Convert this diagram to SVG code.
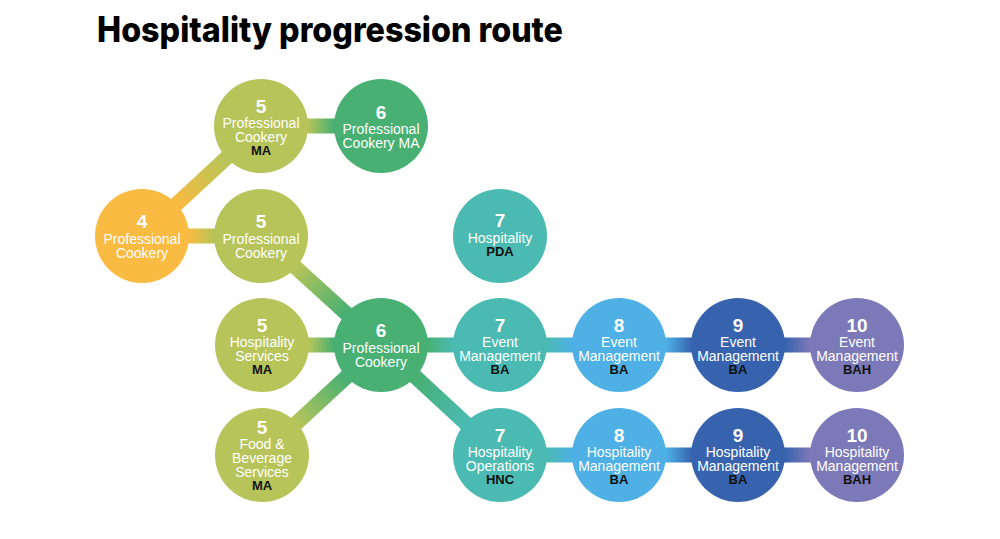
<svg xmlns="http://www.w3.org/2000/svg" width="1000" height="539" viewBox="0 0 1000 539">
<style>
.title{font-family:Inter,"Liberation Sans",sans-serif;font-weight:800;font-size:35px;fill:#000}
.t{font-family:"Liberation Sans",Arial,sans-serif;font-size:14px;fill:#fff;text-anchor:middle}
.num{font-weight:bold;font-size:19px;fill:#fff}
.suf{font-weight:bold;font-size:13px;fill:#111}
.c4{fill:#F9BB41}.c5{fill:#B6C45A}.c6{fill:#47B072}.c7{fill:#4BBAB3}.c8{fill:#4EB0E5}.c9{fill:#3763AE}.c10{fill:#7C79B8}
.con{stroke-width:15;fill:none}
</style>
<defs>
<linearGradient id="g1" gradientUnits="userSpaceOnUse" x1="176" y1="204" x2="227" y2="158"><stop offset="0" stop-color="#F9BB41"/><stop offset="1" stop-color="#B6C45A"/></linearGradient>
<linearGradient id="g2" gradientUnits="userSpaceOnUse" x1="189" y1="0" x2="214" y2="0"><stop offset="0" stop-color="#F9BB41"/><stop offset="1" stop-color="#B6C45A"/></linearGradient>
<linearGradient id="g3" gradientUnits="userSpaceOnUse" x1="308" y1="0" x2="334" y2="0"><stop offset="0" stop-color="#B6C45A"/><stop offset="1" stop-color="#47B072"/></linearGradient>
<linearGradient id="g4" gradientUnits="userSpaceOnUse" x1="296" y1="268" x2="346" y2="313"><stop offset="0" stop-color="#B6C45A"/><stop offset="1" stop-color="#47B072"/></linearGradient>
<linearGradient id="g5" gradientUnits="userSpaceOnUse" x1="309" y1="0" x2="334" y2="0"><stop offset="0" stop-color="#B6C45A"/><stop offset="1" stop-color="#47B072"/></linearGradient>
<linearGradient id="g6" gradientUnits="userSpaceOnUse" x1="296" y1="423" x2="346" y2="377"><stop offset="0" stop-color="#B6C45A"/><stop offset="1" stop-color="#47B072"/></linearGradient>
<linearGradient id="g7" gradientUnits="userSpaceOnUse" x1="428" y1="0" x2="453" y2="0"><stop offset="0" stop-color="#47B072"/><stop offset="1" stop-color="#4BBAB3"/></linearGradient>
<linearGradient id="g8" gradientUnits="userSpaceOnUse" x1="415" y1="377" x2="466" y2="423"><stop offset="0" stop-color="#47B072"/><stop offset="1" stop-color="#4BBAB3"/></linearGradient>
<linearGradient id="g9" gradientUnits="userSpaceOnUse" x1="547" y1="0" x2="572" y2="0"><stop offset="0" stop-color="#4BBAB3"/><stop offset="1" stop-color="#4EB0E5"/></linearGradient>
<linearGradient id="g10" gradientUnits="userSpaceOnUse" x1="666" y1="0" x2="692" y2="0"><stop offset="0" stop-color="#4EB0E5"/><stop offset="1" stop-color="#3763AE"/></linearGradient>
<linearGradient id="g11" gradientUnits="userSpaceOnUse" x1="785" y1="0" x2="810" y2="0"><stop offset="0" stop-color="#3763AE"/><stop offset="1" stop-color="#7C79B8"/></linearGradient>
</defs>
<text class="title" x="97" y="42" textLength="466" lengthAdjust="spacingAndGlyphs">Hospitality progression route</text>
<g id="connectors">
<line class="con" stroke="url(#g1)" x1="142" y1="236" x2="261" y2="126"/>
<line class="con" stroke="url(#g2)" x1="142" y1="236" x2="261" y2="236"/>
<line class="con" stroke="url(#g3)" x1="261" y1="126" x2="381" y2="126"/>
<line class="con" stroke="url(#g4)" x1="261" y1="236" x2="381" y2="345"/>
<line class="con" stroke="url(#g5)" x1="262" y1="345" x2="381" y2="345"/>
<line class="con" stroke="url(#g6)" x1="262" y1="455" x2="381" y2="345"/>
<line class="con" stroke="url(#g7)" x1="381" y1="345" x2="500" y2="345"/>
<line class="con" stroke="url(#g8)" x1="381" y1="345" x2="500" y2="455"/>
<line class="con" stroke="url(#g9)" x1="500" y1="345" x2="619" y2="345"/>
<line class="con" stroke="url(#g10)" x1="619" y1="345" x2="738" y2="345"/>
<line class="con" stroke="url(#g11)" x1="738" y1="345" x2="857" y2="345"/>
<line class="con" stroke="url(#g9)" x1="500" y1="455" x2="619" y2="455"/>
<line class="con" stroke="url(#g10)" x1="619" y1="455" x2="738" y2="455"/>
<line class="con" stroke="url(#g11)" x1="738" y1="455" x2="857" y2="455"/>
</g>
<g id="n4pc"><circle class="c4" cx="142" cy="236" r="47"/><text class="t"><tspan class="num" x="142" y="228">4</tspan><tspan x="142" y="244">Professional</tspan><tspan x="142" y="258">Cookery</tspan></text></g>
<g id="n5pcma"><circle class="c5" cx="261" cy="126" r="47"/><text class="t"><tspan class="num" x="261" y="113">5</tspan><tspan x="261" y="128">Professional</tspan><tspan x="261" y="142">Cookery</tspan><tspan class="suf" x="261" y="155">MA</tspan></text></g>
<g id="n6pcma"><circle class="c6" cx="381" cy="126" r="47"/><text class="t"><tspan class="num" x="381" y="119">6</tspan><tspan x="381" y="134">Professional</tspan><tspan x="381" y="148">Cookery MA</tspan></text></g>
<g id="n5pc"><circle class="c5" cx="261" cy="236" r="47"/><text class="t"><tspan class="num" x="261" y="228">5</tspan><tspan x="261" y="244">Professional</tspan><tspan x="261" y="258">Cookery</tspan></text></g>
<g id="n7pda"><circle class="c7" cx="500" cy="236" r="47"/><text class="t"><tspan class="num" x="500" y="227">7</tspan><tspan x="500" y="243">Hospitality</tspan><tspan class="suf" x="500" y="256">PDA</tspan></text></g>
<g id="n5hs"><circle class="c5" cx="262" cy="345" r="47"/><text class="t"><tspan class="num" x="262" y="332">5</tspan><tspan x="262" y="347">Hospitality</tspan><tspan x="262" y="361">Services</tspan><tspan class="suf" x="262" y="374">MA</tspan></text></g>
<g id="n6pc"><circle class="c6" cx="381" cy="345" r="47"/><text class="t"><tspan class="num" x="381" y="337">6</tspan><tspan x="381" y="353">Professional</tspan><tspan x="381" y="367">Cookery</tspan></text></g>
<g id="n7em"><circle class="c7" cx="500" cy="345" r="47"/><text class="t"><tspan class="num" x="500" y="332">7</tspan><tspan x="500" y="347">Event</tspan><tspan x="500" y="361">Management</tspan><tspan class="suf" x="500" y="374">BA</tspan></text></g>
<g id="n8em"><circle class="c8" cx="619" cy="345" r="47"/><text class="t"><tspan class="num" x="619" y="332">8</tspan><tspan x="619" y="347">Event</tspan><tspan x="619" y="361">Management</tspan><tspan class="suf" x="619" y="374">BA</tspan></text></g>
<g id="n9em"><circle class="c9" cx="738" cy="345" r="47"/><text class="t"><tspan class="num" x="738" y="332">9</tspan><tspan x="738" y="347">Event</tspan><tspan x="738" y="361">Management</tspan><tspan class="suf" x="738" y="374">BA</tspan></text></g>
<g id="n10em"><circle class="c10" cx="857" cy="345" r="47"/><text class="t"><tspan class="num" x="857" y="332">10</tspan><tspan x="857" y="347">Event</tspan><tspan x="857" y="361">Management</tspan><tspan class="suf" x="857" y="374">BAH</tspan></text></g>
<g id="n5fb"><circle class="c5" cx="262" cy="455" r="47"/><text class="t"><tspan class="num" x="262" y="434">5</tspan><tspan x="262" y="449">Food &amp;</tspan><tspan x="262" y="463">Beverage</tspan><tspan x="262" y="477">Services</tspan><tspan class="suf" x="262" y="490">MA</tspan></text></g>
<g id="n7ho"><circle class="c7" cx="500" cy="455" r="47"/><text class="t"><tspan class="num" x="500" y="442">7</tspan><tspan x="500" y="457">Hospitality</tspan><tspan x="500" y="471">Operations</tspan><tspan class="suf" x="500" y="484">HNC</tspan></text></g>
<g id="n8hm"><circle class="c8" cx="619" cy="455" r="47"/><text class="t"><tspan class="num" x="619" y="442">8</tspan><tspan x="619" y="457">Hospitality</tspan><tspan x="619" y="471">Management</tspan><tspan class="suf" x="619" y="484">BA</tspan></text></g>
<g id="n9hm"><circle class="c9" cx="738" cy="455" r="47"/><text class="t"><tspan class="num" x="738" y="442">9</tspan><tspan x="738" y="457">Hospitality</tspan><tspan x="738" y="471">Management</tspan><tspan class="suf" x="738" y="484">BA</tspan></text></g>
<g id="n10hm"><circle class="c10" cx="857" cy="455" r="47"/><text class="t"><tspan class="num" x="857" y="442">10</tspan><tspan x="857" y="457">Hospitality</tspan><tspan x="857" y="471">Management</tspan><tspan class="suf" x="857" y="484">BAH</tspan></text></g>
</svg>
